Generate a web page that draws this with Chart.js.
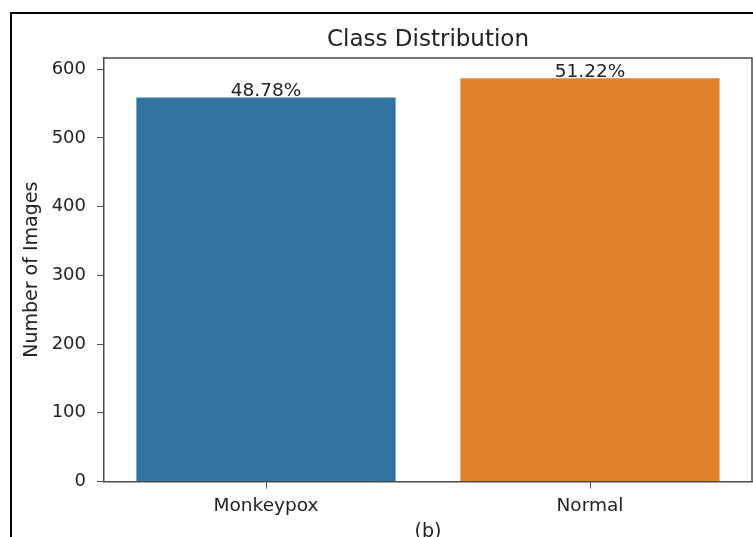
<!DOCTYPE html>
<html>
<head>
<meta charset="utf-8">
<script src="https://cdn.jsdelivr.net/npm/chart.js@4/dist/chart.umd.min.js"></script>
<style>
  html, body { margin: 0; padding: 0; background: #fff; overflow: hidden; }
  #wrap { position: relative; width: 753px; height: 537px; overflow: hidden; }
  #frame {
    position: absolute; left: 10px; top: 12px;
    width: 900px; height: 700px;
    border: 2px solid #000; box-sizing: border-box;
  }
  #c { position: absolute; left: 0; top: 0; }
</style>
</head>
<body>
<div id="wrap">
  <div id="frame"></div>
  <canvas id="c" width="753" height="537"></canvas>
</div>
<script>
// Image counts per class
const categories = ['Monkeypox', 'Normal'];
const counts = [559, 587];
const barColors = ['#3274a1', '#e1812c'];
const yTicks = [0, 100, 200, 300, 400, 500, 600];

const total = counts.reduce((a, b) => a + b, 0);
const percentLabels = counts.map(v => (v / total * 100).toFixed(2) + '%');

const FONT = "'DejaVu Sans', sans-serif";
const TEXT = '#222';
const SPINE = '#4a4a4a';

// Box around the plot area (top and right spines)
const spinesPlugin = {
  id: 'spines',
  afterDraw(chart) {
    const { ctx, chartArea: a } = chart;
    ctx.save();
    ctx.strokeStyle = SPINE;
    ctx.lineWidth = 1.5;
    ctx.beginPath();
    ctx.moveTo(a.left, a.top);
    ctx.lineTo(a.right, a.top);
    ctx.lineTo(a.right, a.bottom);
    ctx.stroke();
    ctx.restore();
  }
};

// Percentage share written above each bar, plus the panel caption
const labelsPlugin = {
  id: 'barLabels',
  afterDatasetsDraw(chart) {
    const { ctx } = chart;
    const meta = chart.getDatasetMeta(0);
    ctx.save();
    ctx.fillStyle = TEXT;
    ctx.font = '18.5px ' + FONT;
    ctx.textAlign = 'center';
    ctx.textBaseline = 'alphabetic';
    meta.data.forEach((bar, i) => {
      ctx.fillText(percentLabels[i], bar.x, bar.y - 1.5);
    });
    const a = chart.chartArea;
    ctx.font = '19px ' + FONT;
    ctx.textBaseline = 'top';
    ctx.fillText('(b)', (a.left + a.right) / 2, 523);
    ctx.restore();
  }
};

new Chart(document.getElementById('c'), {
  type: 'bar',
  data: {
    labels: categories,
    datasets: [{
      data: counts,
      backgroundColor: barColors,
      borderWidth: 0,
      categoryPercentage: 0.8,
      barPercentage: 1.0
    }]
  },
  options: {
    responsive: false,
    animation: false,
    devicePixelRatio: 1,
    layout: { padding: { left: 0, right: 1, top: 0, bottom: 0 } },
    plugins: {
      legend: { display: false },
      tooltip: { enabled: false },
      title: {
        display: true,
        text: 'Class Distribution',
        fullSize: false,
        color: TEXT,
        font: { family: FONT, size: 23, weight: 'normal', lineHeight: 1.2 },
        padding: { top: 26, bottom: 4.4 }
      }
    },
    scales: {
      x: {
        type: 'category',
        offset: true,
        grid: { display: true, drawOnChartArea: false, drawTicks: true, tickLength: 7, tickColor: SPINE, offset: false },
        border: { display: true, color: SPINE, width: 1.5 },
        ticks: { color: TEXT, font: { family: FONT, size: 18.5 }, padding: 7 },
        afterFit(scale) { scale.height = 55.5; }
      },
      y: {
        min: 0,
        max: 616.35,
        afterBuildTicks(scale) { scale.ticks = yTicks.map(v => ({ value: v })); },
        grid: { display: true, drawOnChartArea: false, drawTicks: true, tickLength: 7, tickColor: SPINE },
        border: { display: true, color: SPINE, width: 1.5 },
        ticks: { color: TEXT, font: { family: FONT, size: 18 }, padding: 11 },
        title: {
          display: true,
          text: 'Number of Images',
          color: TEXT,
          font: { family: FONT, size: 19, weight: 'normal', lineHeight: 1.2 },
          padding: { top: 20.5, bottom: 0 }
        },
        afterFit(scale) { scale.width = 104; }
      }
    }
  },
  plugins: [spinesPlugin, labelsPlugin]
});
</script>
</body>
</html>
